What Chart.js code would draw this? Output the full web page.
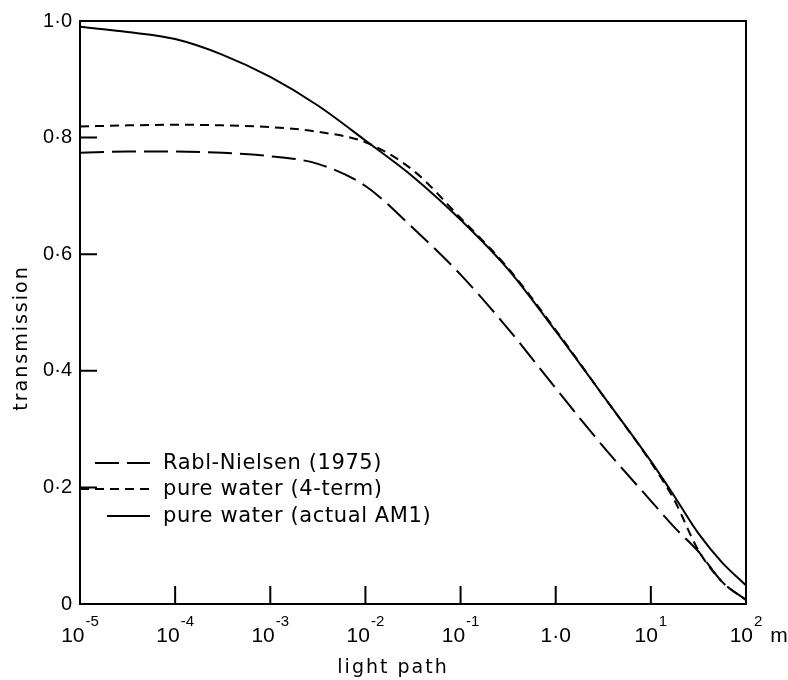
<!DOCTYPE html>
<html>
<head>
<meta charset="utf-8">
<title>transmission vs light path</title>
<script src="https://cdn.jsdelivr.net/npm/chart.js@4.4.1/dist/chart.umd.min.js"></script>
<style>
  html, body { margin: 0; padding: 0; background: #fff; }
  #wrap { width: 788px; height: 680px; }
</style>
</head>
<body>
<div id="wrap"><canvas id="chart" width="788" height="680"></canvas></div>
<script>
// light path in metres (decade and half-decade points)
const lightPath = [1e-5, 3.16e-5, 1e-4, 3.16e-4, 1e-3, 3.16e-3, 1e-2, 3.16e-2, 0.1, 0.316, 1, 3.16, 10, 17.8, 31.6, 56.2, 100];

const rablNielsen = [0.774, 0.776, 0.776, 0.774, 0.768, 0.755, 0.717, 0.645, 0.565, 0.472, 0.37, 0.27, 0.177, 0.131, 0.09, 0.038, 0.007];
const fourTerm    = [0.819, 0.821, 0.822, 0.821, 0.818, 0.81, 0.792, 0.744, 0.662, 0.576, 0.47, 0.357, 0.243, 0.177, 0.092, 0.038, 0.007];
const actualAM1   = [0.99, 0.981, 0.969, 0.942, 0.904, 0.855, 0.795, 0.733, 0.659, 0.574, 0.468, 0.357, 0.245, 0.184, 0.121, 0.071, 0.032];

const xTickValues = [1e-5, 1e-4, 1e-3, 1e-2, 1e-1, 1, 10, 100];
const xTickLabels = ['10^-5', '10^-4', '10^-3', '10^-2', '10^-1', '1·0', '10^1', '10^2 m'];
const yTickValues = [0, 0.2, 0.4, 0.6, 0.8, 1.0];
const yTickLabels = ['0', '0·2', '0·4', '0·6', '0·8', '1·0'];

const seriesLabels = ['Rabl-Nielsen (1975)', 'pure water (4-term)', 'pure water (actual AM1)'];

function points(values) {
  return values.map(function (v, i) { return { x: lightPath[i], y: v }; });
}

const LONG_DASH = [24, 8];
const SHORT_DASH = [9, 6];

// frame, inward ticks, superscript tick labels, axis titles and legend
const paperPlugin = {
  id: 'paper',
  afterDatasetsDraw(chart) {
    const ctx = chart.ctx;
    const a = chart.chartArea;
    const x = chart.scales.x;
    const y = chart.scales.y;
    ctx.save();
    ctx.strokeStyle = '#000';
    ctx.fillStyle = '#000';
    ctx.lineWidth = 2;
    ctx.setLineDash([]);
    ctx.strokeRect(a.left, a.top, a.right - a.left, a.bottom - a.top);

    ctx.beginPath();
    xTickValues.slice(1, -1).forEach(function (v) {
      const px = x.getPixelForValue(v);
      ctx.moveTo(px, a.bottom);
      ctx.lineTo(px, a.bottom - 18);
    });
    yTickValues.slice(1, -1).forEach(function (v) {
      const py = y.getPixelForValue(v);
      ctx.moveTo(a.left, py);
      ctx.lineTo(a.left + 17, py);
    });
    ctx.stroke();

    // x tick labels: base, superscript, unit
    ctx.textBaseline = 'alphabetic';
    ctx.textAlign = 'left';
    xTickValues.forEach(function (v, i) {
      let label = xTickLabels[i];
      let suffix = '';
      const sp = label.indexOf(' ');
      if (sp > 0) { suffix = label.slice(sp); label = label.slice(0, sp); }
      const parts = label.split('^');
      const base = parts[0];
      const exp = parts[1] || '';
      ctx.font = '21px "Liberation Sans"';
      const wb = ctx.measureText(base).width;
      ctx.font = '15px "Liberation Sans"';
      const we = exp ? ctx.measureText(exp).width + 1 : 0;
      const px = x.getPixelForValue(v);
      const start = px - (wb + we) / 2;
      ctx.font = '21px "Liberation Sans"';
      ctx.fillText(base, start, 642);
      if (suffix) ctx.fillText(suffix, start + wb + we + 2, 642);
      if (exp) {
        ctx.font = '15px "Liberation Sans"';
        ctx.fillText(exp, start + wb + 1, 626);
      }
    });

    // axis titles
    ctx.font = '19px "DejaVu Sans"';
    ctx.letterSpacing = '2px';
    ctx.textAlign = 'center';
    ctx.fillText('light path', 393, 673);
    ctx.save();
    ctx.translate(27, 338);
    ctx.rotate(-Math.PI / 2);
    ctx.fillText('transmission', 0, 0);
    ctx.restore();

    // legend inside the plot
    const rows = [
      { x0: 95, x1: 150, y: 463, dash: LONG_DASH },
      { x0: 80, x1: 150, y: 489, dash: SHORT_DASH },
      { x0: 107, x1: 150, y: 516, dash: [] }
    ];
    ctx.letterSpacing = '0.6px';
    ctx.font = '21px "DejaVu Sans"';
    ctx.textAlign = 'left';
    rows.forEach(function (r, i) {
      ctx.setLineDash(r.dash);
      ctx.beginPath();
      ctx.moveTo(r.x0, r.y);
      ctx.lineTo(r.x1, r.y);
      ctx.stroke();
      ctx.fillText(chart.data.datasets[i].label, 163, r.y + 6);
    });
    ctx.restore();
  }
};

const ctx = document.getElementById('chart').getContext('2d');

new Chart(ctx, {
  type: 'line',
  data: {
    datasets: [{
      label: seriesLabels[0],
      data: points(rablNielsen),
      borderColor: '#000',
      borderWidth: 2,
      borderDash: LONG_DASH,
      pointRadius: 0,
      cubicInterpolationMode: 'monotone'
    },
    {
      label: seriesLabels[1],
      data: points(fourTerm),
      borderColor: '#000',
      borderWidth: 2,
      borderDash: SHORT_DASH,
      pointRadius: 0,
      cubicInterpolationMode: 'monotone'
    },
    {
      label: seriesLabels[2],
      data: points(actualAM1),
      borderColor: '#000',
      borderWidth: 2,
      pointRadius: 0,
      cubicInterpolationMode: 'monotone'
    }]
  },
  options: {
    responsive: false,
    animation: false,
    layout: { padding: { left: 0, right: 42, top: 21, bottom: 0 } },
    plugins: {
      legend: { display: false },
      tooltip: { enabled: false }
    },
    scales: {
      x: {
        type: 'logarithmic',
        min: 1e-5,
        max: 100,
        grid: { display: false },
        border: { display: false },
        ticks: { display: false },
        afterBuildTicks: function (scale) {
          scale.ticks = xTickValues.map(function (v) { return { value: v }; });
        },
        afterFit: function (scale) { scale.height = 76; }
      },
      y: {
        min: 0,
        max: 1,
        grid: { display: false, drawTicks: false },
        border: { display: false },
        ticks: {
          color: '#000',
          padding: 8,
          font: { family: 'Liberation Sans', size: 20 },
          callback: function (value, index) { return yTickLabels[index]; }
        },
        afterBuildTicks: function (scale) {
          scale.ticks = yTickValues.map(function (v) { return { value: v }; });
        },
        afterFit: function (scale) { scale.width = 80; }
      }
    }
  },
  plugins: [paperPlugin]
});
</script>
</body>
</html>
